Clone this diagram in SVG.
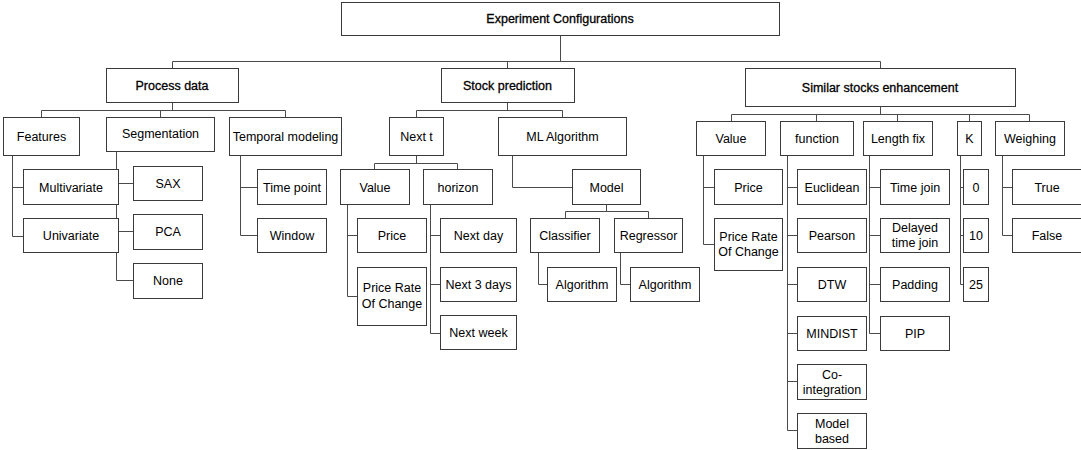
<svg xmlns="http://www.w3.org/2000/svg" width="1081" height="450" viewBox="0 0 1081 450">
<style>
.b{fill:#fff;stroke:#3a3a3a;stroke-width:1}
.t{font-family:"Liberation Sans",Arial,sans-serif;font-size:12.5px;fill:#000;text-anchor:middle}
.h{stroke:#000;stroke-width:0.3}
.c{fill:none;stroke:#4a4a4a;stroke-width:1}
</style>
<rect width="1081" height="450" fill="#fff"/>
<g id="connectors" class="c">
<path d="M560.5,35 V61.5 M172.5,61.5 H880.5 M172.5,61.5 V68 M507.5,61.5 V68 M880.5,61.5 V68"/>
<path d="M172.5,102 V110.5 M41.5,110.5 H285.5 M41.5,110.5 V117 M160.5,110.5 V117 M285.5,110.5 V117"/>
<path d="M12.5,155 V236.5 M12.5,187.5 H23 M12.5,236.5 H23"/>
<path d="M116.5,151 V280.5 M116.5,183.5 H133 M116.5,231.5 H133 M116.5,280.5 H133"/>
<path d="M240.5,155 V235.5 M240.5,187.5 H257 M240.5,235.5 H257"/>
<path d="M507.5,102 V110.5 M416.5,110.5 H562.5 M416.5,110.5 V117 M562.5,110.5 V117"/>
<path d="M416.5,155 V163.5 M374.5,163.5 H457.5 M374.5,163.5 V169 M457.5,163.5 V169"/>
<path d="M347.5,204 V296.5 M347.5,235.5 H357 M347.5,296.5 H357"/>
<path d="M430.5,204 V333.5 M430.5,235.5 H440 M430.5,284.5 H440 M430.5,333.5 H440"/>
<path d="M512.5,155 V187.5 H572"/>
<path d="M606.5,204 V211.5 M565.5,211.5 H648.5 M565.5,211.5 V218 M648.5,211.5 V218"/>
<path d="M538.5,252 V284.5 H547 M620.5,252 V284.5 H630"/>
<path d="M880.5,106 V114.5 M731.5,114.5 H1029.5 M731.5,114.5 V121 M816.5,114.5 V121 M897.5,114.5 V121 M969.5,114.5 V121 M1029.5,114.5 V121"/>
<path d="M703.5,155 V244.5 M703.5,187.5 H714 M703.5,244.5 H714"/>
<path d="M787.5,155 V430.5 M787.5,187.5 H797 M787.5,235.5 H797 M787.5,284.5 H797 M787.5,333.5 H797 M787.5,381.5 H797 M787.5,430.5 H797"/>
<path d="M869.5,155 V333.5 M869.5,187.5 H880 M869.5,235.5 H880 M869.5,284.5 H880 M869.5,333.5 H880"/>
<path d="M960.5,155 V284.5 M960.5,187.5 H963 M960.5,235.5 H963 M960.5,284.5 H963"/>
<path d="M1002.5,155 V235.5 M1002.5,187.5 H1012 M1002.5,235.5 H1012"/>
</g>
<g id="root"><rect class="b" x="341.5" y="2.5" width="438" height="33"/><text class="t h" x="560" y="23">Experiment Configurations</text></g>
<g id="process-data"><rect class="b" x="106.5" y="68.5" width="132" height="34"/><text class="t h" x="172" y="90">Process data</text></g>
<g id="stock-prediction"><rect class="b" x="441.5" y="68.5" width="133" height="34"/><text class="t h" x="507.5" y="90">Stock prediction</text></g>
<g id="similar-stocks"><rect class="b" x="745.5" y="68.5" width="270" height="38"/><text class="t h" x="880" y="92">Similar stocks enhancement</text></g>

<g id="features"><rect class="b" x="3.5" y="117.5" width="76" height="38"/><text class="t" x="41.5" y="141">Features</text></g>
<g id="segmentation"><rect class="b" x="106.5" y="117.5" width="108" height="34"/><text class="t" x="160.5" y="138">Segmentation</text></g>
<g id="temporal"><rect class="b" x="229.5" y="117.5" width="112" height="38"/><text class="t" x="285.5" y="141">Temporal modeling</text></g>
<g id="multivariate"><rect class="b" x="23.5" y="169.5" width="95" height="35"/><text class="t" x="71" y="191.5">Multivariate</text></g>
<g id="univariate"><rect class="b" x="23.5" y="218.5" width="95" height="34"/><text class="t" x="71" y="240">Univariate</text></g>
<g id="sax"><rect class="b" x="133.5" y="166.5" width="69" height="34"/><text class="t" x="168" y="187.5">SAX</text></g>
<g id="pca"><rect class="b" x="133.5" y="214.5" width="69" height="35"/><text class="t" x="168" y="236">PCA</text></g>
<g id="none"><rect class="b" x="133.5" y="263.5" width="69" height="35"/><text class="t" x="168" y="285">None</text></g>
<g id="time-point"><rect class="b" x="257.5" y="169.5" width="69" height="35"/><text class="t" x="292" y="191.5">Time point</text></g>
<g id="window"><rect class="b" x="257.5" y="218.5" width="69" height="34"/><text class="t" x="292" y="240">Window</text></g>

<g id="next-t"><rect class="b" x="389.5" y="117.5" width="54" height="38"/><text class="t" x="416.5" y="141">Next t</text></g>
<g id="ml-algorithm"><rect class="b" x="498.5" y="117.5" width="128" height="38"/><text class="t" x="562.5" y="141">ML Algorithm</text></g>
<g id="sp-value"><rect class="b" x="340.5" y="169.5" width="69" height="35"/><text class="t" x="375" y="191.5">Value</text></g>
<g id="horizon"><rect class="b" x="423.5" y="169.5" width="69" height="35"/><text class="t" x="458" y="191.5">horizon</text></g>
<g id="sp-price"><rect class="b" x="357.5" y="218.5" width="69" height="34"/><text class="t" x="392" y="240">Price</text></g>
<g id="sp-proc"><rect class="b" x="357.5" y="267.5" width="69" height="58"/><text class="t" x="392" y="292">Price Rate</text><text class="t" x="392" y="308">Of Change</text></g>
<g id="next-day"><rect class="b" x="440.5" y="218.5" width="76" height="34"/><text class="t" x="478.5" y="240">Next day</text></g>
<g id="next-3-days"><rect class="b" x="440.5" y="267.5" width="76" height="34"/><text class="t" x="478.5" y="289">Next 3 days</text></g>
<g id="next-week"><rect class="b" x="440.5" y="315.5" width="76" height="34"/><text class="t" x="478.5" y="337">Next week</text></g>
<g id="model"><rect class="b" x="572.5" y="169.5" width="68" height="35"/><text class="t" x="606.5" y="191.5">Model</text></g>
<g id="classifier"><rect class="b" x="530.5" y="218.5" width="69" height="34"/><text class="t" x="565" y="240">Classifier</text></g>
<g id="regressor"><rect class="b" x="614.5" y="218.5" width="68" height="34"/><text class="t" x="648.5" y="240">Regressor</text></g>
<g id="algorithm-c"><rect class="b" x="547.5" y="267.5" width="69" height="34"/><text class="t" x="582" y="289">Algorithm</text></g>
<g id="algorithm-r"><rect class="b" x="630.5" y="267.5" width="69" height="34"/><text class="t" x="665" y="289">Algorithm</text></g>

<g id="sse-value"><rect class="b" x="696.5" y="121.5" width="69" height="34"/><text class="t" x="731" y="143">Value</text></g>
<g id="function"><rect class="b" x="780.5" y="121.5" width="73" height="34"/><text class="t" x="817" y="143">function</text></g>
<g id="length-fix"><rect class="b" x="863.5" y="121.5" width="69" height="34"/><text class="t" x="898" y="143">Length fix</text></g>
<g id="k"><rect class="b" x="957.5" y="121.5" width="24" height="34"/><text class="t" x="969.5" y="143">K</text></g>
<g id="weighing"><rect class="b" x="995.5" y="121.5" width="69" height="34"/><text class="t" x="1030" y="143">Weighing</text></g>
<g id="sse-price"><rect class="b" x="714.5" y="169.5" width="68" height="35"/><text class="t" x="748.5" y="191.5">Price</text></g>
<g id="sse-proc"><rect class="b" x="714.5" y="218.5" width="68" height="52"/><text class="t" x="748.5" y="241">Price Rate</text><text class="t" x="748.5" y="256">Of Change</text></g>
<g id="euclidean"><rect class="b" x="797.5" y="169.5" width="69" height="35"/><text class="t" x="832" y="191.5">Euclidean</text></g>
<g id="pearson"><rect class="b" x="797.5" y="218.5" width="69" height="34"/><text class="t" x="832" y="240">Pearson</text></g>
<g id="dtw"><rect class="b" x="797.5" y="267.5" width="69" height="34"/><text class="t" x="832" y="289">DTW</text></g>
<g id="mindist"><rect class="b" x="797.5" y="316.5" width="69" height="34"/><text class="t" x="832" y="338">MINDIST</text></g>
<g id="co-integration"><rect class="b" x="797.5" y="364.5" width="69" height="35"/><text class="t" x="832" y="379">Co-</text><text class="t" x="832" y="394">integration</text></g>
<g id="model-based"><rect class="b" x="797.5" y="413.5" width="69" height="35"/><text class="t" x="832" y="428">Model</text><text class="t" x="832" y="443">based</text></g>
<g id="time-join"><rect class="b" x="880.5" y="169.5" width="69" height="35"/><text class="t" x="915" y="191.5">Time join</text></g>
<g id="delayed-time-join"><rect class="b" x="880.5" y="218.5" width="69" height="34"/><text class="t" x="915" y="232">Delayed</text><text class="t" x="915" y="247">time join</text></g>
<g id="padding"><rect class="b" x="880.5" y="267.5" width="69" height="34"/><text class="t" x="915" y="289">Padding</text></g>
<g id="pip"><rect class="b" x="880.5" y="316.5" width="69" height="34"/><text class="t" x="915" y="338">PIP</text></g>
<g id="k-0"><rect class="b" x="963.5" y="169.5" width="25" height="35"/><text class="t" x="976" y="191.5">0</text></g>
<g id="k-10"><rect class="b" x="963.5" y="218.5" width="25" height="34"/><text class="t" x="976" y="240">10</text></g>
<g id="k-25"><rect class="b" x="963.5" y="267.5" width="25" height="34"/><text class="t" x="976" y="289">25</text></g>
<g id="true"><rect class="b" x="1012.5" y="169.5" width="69" height="35"/><text class="t" x="1047" y="191.5">True</text></g>
<g id="false"><rect class="b" x="1012.5" y="218.5" width="69" height="34"/><text class="t" x="1047" y="240">False</text></g>
</svg>
